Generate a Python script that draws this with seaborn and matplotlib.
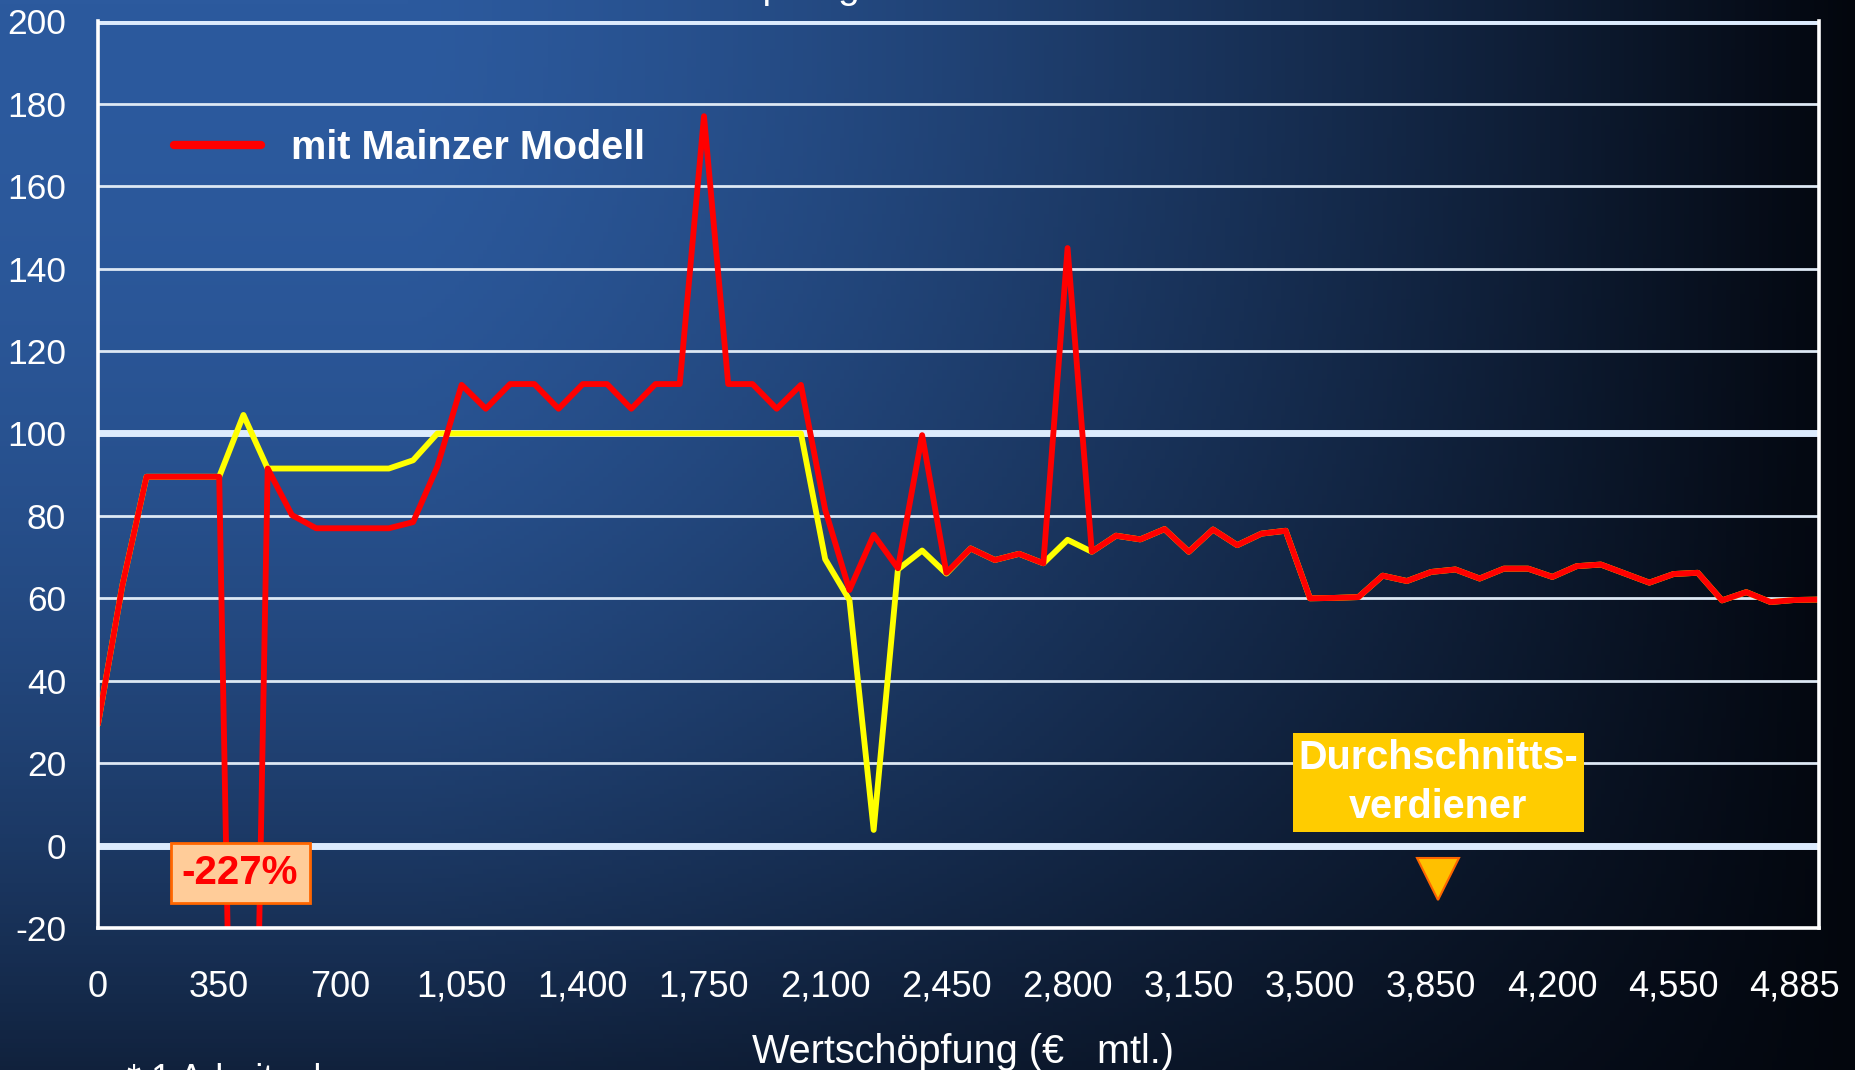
import numpy as np
import pandas as pd
import seaborn as sns
import matplotlib.pyplot as plt
from matplotlib.lines import Line2D

# Werte je Wertschoepfungsstufe (Kategorien im 70-Euro-Raster, Beschriftung alle 5 Stufen)
mit_modell = [29.5, 63, 89.5, 89.5, 89.5, 89.5, -227, 91.5, 80.2, 77,
              77, 77, 77, 78.5, 92, 111.8, 106, 112, 112, 106,
              112, 112, 106, 112, 112, 177, 112, 112, 106, 111.8,
              81.5, 62, 75.4, 67.3, 99.6, 66.2, 72.1, 69.3, 70.8, 68.5,
              145, 71.3, 75.2, 74.3, 76.8, 71.3, 76.7, 72.9, 75.7, 76.4,
              60, 60.1, 60.3, 65.5, 64.2, 66.4, 67, 64.8, 67.2, 67.2,
              65.2, 67.8, 68.2, 66, 63.8, 65.9, 66.2, 59.5, 61.5, 59.1,
              59.6, 59.7]

ohne_modell = [29.5, 63, 89.5, 89.5, 89.5, 89.5, 104.5, 91.5, 91.5, 91.5,
               91.5, 91.5, 91.5, 93.5, 100, 100, 100, 100, 100, 100,
               100, 100, 100, 100, 100, 100, 100, 100, 100, 100,
               69.5, 59.6, 3.8, 67, 71.6, 66, 72.1, 69.3, 70.8, 68.5,
               74.2, 71.3, 75.2, 74.3, 76.8, 71.3, 76.7, 72.9, 75.7, 76.4,
               60, 60.1, 60.3, 65.5, 64.2, 66.4, 67, 64.8, 67.2, 67.2,
               65.2, 67.8, 68.2, 66, 63.8, 65.9, 66.2, 59.5, 61.5, 59.1,
               59.6, 59.7]

x_labels = ["0", "350", "700", "1,050", "1,400", "1,750", "2,100", "2,450",
            "2,800", "3,150", "3,500", "3,850", "4,200", "4,550", "4,885"]
y_ticks = [-20, 0, 20, 40, 60, 80, 100, 120, 140, 160, 180, 200]
y_major = [0, 100, 200]

minimum_label = "-227%"
minimum_kat = 6
durchschnitt_kat = 55.3   # 3,850

df = pd.DataFrame({"kat": np.arange(len(mit_modell)),
                   "mit": mit_modell, "ohne": ohne_modell})

sns.set_theme(style="white")
plt.rcParams["font.family"] = ["Liberation Sans", "DejaVu Sans"]
plt.rcParams["axes.unicode_minus"] = False

fig = plt.figure(figsize=(18.56, 10.70), dpi=100)

# Hintergrund-Verlauf (blau oben links -> schwarz rechts/unten)
bg = fig.add_axes([0, 0, 1, 1], zorder=-5)
gx, gy = np.meshgrid(np.linspace(0, 1, 400), np.linspace(0, 1, 240))
fx = np.clip((gx - 0.22) / 0.78, 0, 1) ** 1.3
fy = 0.67 * gy ** 2.2
f = 1 - (1 - fx) * (1 - fy)
c0 = np.array([0x2c, 0x5a, 0x9e]) / 255
c1 = np.array([0x03, 0x06, 0x0d]) / 255
img = c0[None, None, :] * (1 - f[..., None]) + c1[None, None, :] * f[..., None]
bg.imshow(img, aspect="auto", extent=[0, 1, 0, 1], origin="upper")
bg.axis("off")

ax = fig.add_axes([98 / 1856, 142 / 1070, 1721 / 1856, 906.6 / 1070])
ax.set_facecolor("none")

sns.lineplot(data=df, x="kat", y="ohne", color="#ffff00", lw=4.2, ax=ax, zorder=4)
sns.lineplot(data=df, x="kat", y="mit", color="#ff0000", lw=4.2, ax=ax, zorder=5)

ax.set_xlim(0, len(mit_modell) - 1)
ax.set_ylim(-20, 200)
ax.set_yticks(y_ticks)
ax.set_xticks(np.arange(0, 5 * len(x_labels), 5))
ax.set_xticklabels(x_labels)

ax.grid(axis="y", color="#dde8f4", lw=2.0, zorder=1)
ax.grid(axis="x", visible=False)
for v in y_major:
    ax.axhline(v, color="#dcebfd", lw=5, zorder=2)

for s in ["left", "right", "bottom"]:
    ax.spines[s].set_color("white")
    ax.spines[s].set_linewidth(2.6)
    ax.spines[s].set_zorder(6)
ax.spines["top"].set_visible(False)

ax.tick_params(axis="x", direction="in", length=7.5, width=2.2, color="white",
               labelcolor="white", labelsize=26, pad=30)
ax.tick_params(axis="y", length=0, labelcolor="white", labelsize=25.5, pad=23)
ax.set_xlabel("Wertschöpfung (€   mtl.)", color="white", fontsize=28.5)
ax.xaxis.label.set_va("baseline")
ax.xaxis.set_label_coords(0.5025, -(1063 - 928) / 906.6)
ax.set_ylabel("")

# Legende
handle = Line2D([], [], color="#ff0000", lw=6)
ax.legend(handles=[handle], labels=["mit Mainzer Modell"], loc="center left",
          bbox_to_anchor=((174 - 98) / 1721, (928 - 148) / 906.6),
          frameon=False, borderpad=0, borderaxespad=0, handlelength=2.2,
          handletextpad=0.75, prop={"weight": "bold", "size": 28.5},
          labelcolor="white")

# Markierung Minimum
ax.text(minimum_kat - 0.14, -6.6, minimum_label, color="#ff0000", fontsize=29,
        fontweight="bold", ha="center", va="center", zorder=8,
        bbox=dict(boxstyle="square,pad=0.28", fc="#ffcc99", ec="#ff6600", lw=2))

# Durchschnittsverdiener
ax.text(durchschnitt_kat, 15.3, "Durchschnitts-\nverdiener", color="white",
        fontsize=28.5, fontweight="bold", ha="center", va="center", zorder=8,
        linespacing=1.38,
        bbox=dict(boxstyle="square,pad=0.14", fc="#ffcc00", ec="none"))
ax.plot([durchschnitt_kat], [-8.1], marker="v", ms=30, color="#ffc000",
        mec="#ff6600", mew=1.5, zorder=8, clip_on=False)

# abgeschnittene Titel- und Fusszeile
fig.text(600 / 1856, 1 + 2.3 / 1070, "Wertschöpfung", color="white",
         fontsize=28, ha="left", va="baseline")
fig.text(127 / 1856, 1 - 1063 / 1070, "* 1 Arbeitnehmer", color="white",
         fontsize=26, ha="left", va="top")

fig.savefig("out.png", dpi=100)
